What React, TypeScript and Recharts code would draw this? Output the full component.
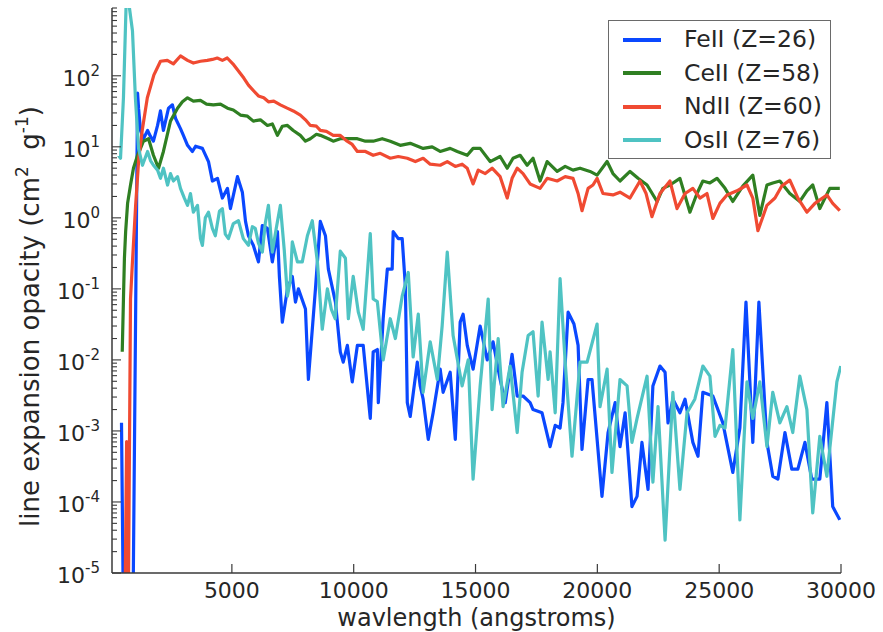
// Line expansion opacity vs wavelength for four singly ionised species (log y axis),
// matplotlib-classic look: boxed axes, inward ticks, framed legend top right.

import { Legend, Line, LineChart, XAxis, YAxis } from "recharts";

document.body.style.margin = "0";

const FONT = "'DejaVu Sans', Verdana, sans-serif";
const INK = "#262626";
const FRAME = "#3a3a3a";
const FS = 22;

// wavelength (angstroms) and opacity (cm^2 g^-1)
const feWave = [
  470, 560, 930, 1130, 1170, 1250, 1370, 1540, 1660, 1780,
  1950, 2070, 2190, 2400, 2560, 2690, 2890, 3010, 3180, 3380,
  3510, 3790, 4040, 4200, 4410, 4610, 4820, 4940, 5230, 5430,
  5560, 5680, 5880, 6090, 6250, 6460, 6660, 6870, 6950, 7070,
  7280, 7480, 7610, 7730, 8020, 8140, 8430, 8630, 8840, 8960,
  9250, 9450, 9570, 9740, 9940, 10150, 10390, 10680, 10800, 10970,
  11010, 11210, 11380, 11580, 11620, 11830, 11990, 12120, 12200, 12320,
  12610, 12730, 12850, 13060, 13260, 13550, 13670, 13960, 14170, 14370,
  14490, 14660, 14900, 15190, 15480, 15720, 16010, 16220, 16500, 16710,
  16950, 17240, 17360, 17730, 18060, 18270, 18470, 18590, 18800, 19040,
  19210, 19370, 19620, 19780, 20190, 20440, 20730, 20930, 21140, 21420,
  21630, 21830, 22080, 22280, 22570, 22780, 22900, 23100, 23390, 23600,
  23920, 24130, 24330, 24740, 25150, 25560, 25850, 26100, 26380, 26630,
  26960, 27200, 27410, 27700, 27980, 28230, 28520, 28800, 29130, 29420,
  29660, 29950,
];
const feOpacity = [
  1.3e-3, 1e-6, 1e-6, 57, 35, 17, 13, 17, 14, 12,
  20, 32, 17, 35, 39, 25, 18, 14.5, 10.5, 8.6,
  10.2, 9.5, 6.2, 3.3, 3.6, 1.9, 2.6, 1.35, 3.8, 2.3,
  0.89, 0.56, 0.41, 0.24, 0.78, 0.71, 0.24, 0.64, 0.15, 0.034,
  0.1, 0.15, 0.065, 0.1, 0.052, 0.0053, 0.1, 0.89, 0.56, 0.19,
  0.065, 0.013, 0.0093, 0.016, 0.0049, 0.016, 0.016, 0.0015, 0.013, 0.014,
  0.0025, 0.038, 0.19, 0.19, 0.64, 0.51, 0.51, 0.11, 0.0025, 0.0016,
  0.0093, 0.0043, 0.0028, 7.6e-4, 0.0018, 0.0074, 0.0035, 0.0067, 7.6e-4, 0.034,
  0.044, 0.016, 0.0074, 0.03, 0.01, 0.018, 0.0053, 0.0025, 0.012, 0.0031,
  0.0031, 0.0025, 0.002, 0.0018, 6e-4, 0.0012, 0.0011, 0.0025, 0.047, 0.032,
  0.016, 5.5e-4, 0.0053, 0.0053, 1.2e-4, 9.5e-4, 0.0025, 6e-4, 0.0018, 8.6e-5,
  1.2e-4, 6.9e-4, 1.5e-4, 0.0043, 0.0082, 0.0067, 0.0013, 0.0028, 0.0018, 0.0028,
  6.9e-4, 4.4e-4, 0.0035, 0.0031, 0.0013, 2.6e-4, 0.0011, 0.065, 6.9e-4, 0.065,
  6.9e-4, 2.3e-4, 2.1e-4, 9.5e-4, 2.9e-4, 2.9e-4, 6.9e-4, 2.1e-4, 2.1e-4, 0.0025,
  8.6e-5, 5.6e-5,
];

const ceWave = [
  500, 550, 590, 640, 720, 840, 960, 1130, 1250, 1370,
  1580, 1780, 1990, 2190, 2480, 2770, 2970, 3180, 3420, 3710,
  3960, 4240, 4530, 4820, 5060, 5350, 5640, 5880, 6170, 6460,
  6660, 6870, 7070, 7280, 7520, 7810, 8020, 8220, 8470, 8630,
  8960, 9160, 9450, 9740, 10150, 10480, 10800, 11170, 11500, 11910,
  12320, 12850, 13220, 13550, 13960, 14250, 14660, 14900, 15190, 15600,
  16010, 16300, 16540, 16830, 17120, 17360, 17650, 17940, 18350, 18680,
  19000, 19290, 19700, 19990, 20400, 20640, 20930, 21340, 21670, 22040,
  22450, 22690, 22980, 23390, 23800, 24090, 24330, 24620, 24910, 25240,
  25560, 25970, 26380, 26670, 26960, 27200, 27490, 27900, 28310, 28600,
  28840, 29130, 29540, 29950,
];
const ceOpacity = [
  0.013, 0.072, 0.27, 0.64, 1.6, 2.9, 5, 7.6, 9.5, 12,
  13, 7.6, 5, 8.6, 23, 35, 43, 49, 44, 45,
  40, 39, 40, 35, 33, 28, 27, 23, 24, 20,
  21, 14.5, 19.5, 20, 17, 14.5, 12, 13, 15, 14.5,
  13, 12, 13, 13, 13, 12, 12, 13, 12, 10.5,
  11.2, 9.5, 10, 8.6, 9.5, 8.6, 7.6, 9.5, 9.5, 6.2,
  7.3, 5, 6.9, 7.6, 5.5, 6.9, 3.3, 6.2, 4.5, 5.3,
  4.7, 5, 4.5, 4, 6.2, 4.2, 3.3, 4.5, 3.6, 2.9,
  1.7, 2.6, 2.9, 3.6, 1.2, 2.2, 3.3, 3.1, 3.6, 2.6,
  1.7, 2.8, 4, 1.08, 2.9, 3.1, 3.3, 2.2, 1.7, 2.4,
  2.9, 1.35, 2.6, 2.6,
];

const ndWave = [
  600, 680, 740, 840, 910, 1050, 1180, 1320, 1530, 1800,
  2070, 2350, 2600, 2890, 3180, 3420, 3710, 3990, 4200, 4400,
  4610, 4810, 5080, 5270, 5490, 5680, 5900, 6090, 6310, 6500,
  6720, 6990, 7270, 7520, 7810, 8020, 8220, 8470, 8630, 8880,
  9160, 9450, 9730, 9940, 10150, 10480, 10800, 11090, 11500, 11830,
  12200, 12530, 12850, 13140, 13550, 13840, 14170, 14450, 14660, 14900,
  15110, 15400, 15680, 16010, 16300, 16500, 16710, 16950, 17240, 17650,
  17940, 18350, 18680, 19000, 19210, 19370, 19620, 19820, 19990, 20230,
  20640, 20930, 21340, 21750, 22000, 22240, 22570, 22980, 23270, 23600,
  23920, 24210, 24500, 24740, 25030, 25320, 25730, 26140, 26380, 26590,
  26960, 27290, 27570, 27900, 28230, 28600, 28930, 29420, 29660, 29950,
];
const ndOpacity = [
  1e-6, 7.1e-4, 1e-6, 0.072, 0.21, 1.5, 6.9, 17, 49, 103,
  160, 165, 147, 190, 165, 151, 160, 165, 170, 178,
  165, 178, 142, 117, 93, 74, 61, 52, 49, 43,
  44, 39, 35, 32, 28, 24, 20, 19.5, 17, 16.5,
  14.5, 14.5, 12, 10.8, 8.6, 8.6, 7.6, 8.1, 6.9, 7.3,
  6.9, 6.2, 6.9, 5.7, 5.5, 6.2, 5.3, 5.7, 5, 3,
  4.7, 4.2, 5, 3.8, 1.9, 3.6, 5, 4.2, 3, 2.6,
  3.6, 3.3, 3.8, 3.6, 2.2, 1.26, 2.6, 2.9, 3.6, 2.2,
  2.1, 2.3, 1.9, 3.3, 2.2, 1.04, 2.2, 3.3, 1.35, 2.2,
  2.6, 1.9, 2.2, 0.98, 1.6, 2.1, 2.4, 2.9, 1.9, 0.66,
  1.5, 1.9, 2.8, 3.4, 1.9, 1.2, 1.6, 2.1, 1.6, 1.26,
];

const osWave = [
  350, 430, 550, 680, 920, 1040, 1170, 1330, 1540, 1660,
  1780, 1950, 2070, 2190, 2360, 2480, 2600, 2770, 2890, 3050,
  3180, 3300, 3420, 3590, 3710, 3790, 3910, 4040, 4200, 4320,
  4490, 4610, 4730, 4860, 5060, 5270, 5470, 5680, 5840, 5960,
  6090, 6250, 6370, 6500, 6660, 6820, 6990, 7150, 7280, 7400,
  7480, 7690, 7890, 8100, 8300, 8510, 8710, 8920, 9080, 9240,
  9450, 9660, 9780, 9980, 10190, 10390, 10680, 10800, 10970, 11210,
  11500, 11710, 11990, 12240, 12440, 12650, 12850, 13140, 13430, 13630,
  13840, 14080, 14450, 14700, 14900, 15190, 15520, 15680, 15930, 16130,
  16420, 16710, 16910, 17160, 17360, 17570, 17730, 17980, 18060, 18270,
  18470, 18680, 18960, 19290, 19580, 19990, 20110, 20400, 20600, 20930,
  21220, 21420, 21630, 22040, 22280, 22490, 22780, 23100, 23390, 23680,
  24000, 24330, 24620, 24830, 25030, 25240, 25560, 25850, 26140, 26380,
  26670, 26960, 27200, 27490, 27780, 28020, 28310, 28600, 28840, 29130,
  29420, 29830, 29990,
];
const osOpacity = [
  7.6, 6.9, 49, 1800, 430, 49, 9.5, 5.5, 8.6, 6.4,
  5.5, 4.7, 3.6, 5, 2.9, 4.2, 3.3, 3.8, 2.6, 1.9,
  1.5, 2.2, 1.2, 1.5, 0.51, 0.41, 1, 1.2, 0.71, 0.56,
  1.24, 1.35, 0.59, 0.51, 0.83, 0.91, 0.51, 0.41, 0.75, 0.71,
  0.44, 0.33, 0.83, 1.5, 0.33, 0.71, 1.5, 0.35, 0.079, 0.13,
  0.46, 0.24, 0.24, 0.56, 0.91, 0.24, 0.027, 0.1, 0.052, 0.038,
  0.34, 0.27, 0.038, 0.15, 0.047, 0.027, 0.6, 0.072, 0.066, 0.01,
  0.038, 0.02, 0.079, 0.17, 0.011, 0.044, 0.0035, 0.018, 0.0053, 0.03,
  0.33, 0.022, 0.0043, 0.01, 2.1e-4, 0.0043, 0.072, 0.002, 0.02, 0.0022,
  0.0082, 9.5e-4, 0.0067, 0.022, 0.025, 0.0031, 0.034, 0.0053, 0.013, 0.0018,
  0.14, 0.0093, 4.4e-4, 0.0093, 0.0093, 0.032, 0.0022, 0.0074, 2.6e-4, 0.0053,
  0.0043, 6.9e-4, 0.0015, 0.0059, 1.9e-4, 0.0022, 2.9e-5, 0.0035, 1.5e-4, 0.0018,
  0.0028, 0.0082, 0.0059, 8.4e-4, 0.0012, 0.0011, 0.014, 5.6e-5, 0.0049, 0.0015,
  0.0049, 6e-4, 0.0035, 0.0013, 0.0022, 9.5e-4, 0.0059, 0.002, 7e-5, 8.4e-4,
  2.3e-4, 0.0049, 0.0082,
];

const xTicks = [5000, 10000, 15000, 20000, 25000, 30000];
const decades = [1e-5, 1e-4, 1e-3, 1e-2, 1e-1, 1, 10, 100];
const X_DOMAIN: [number, number] = [80, 30000];
const Y_DOMAIN: [number, number] = [1e-5, 900];

// decades plus the 2..9 minor marks inside each one
const yTicks = decades
  .flatMap((d) => [1, 2, 3, 4, 5, 6, 7, 8, 9].map((m) => d * m))
  .filter((v) => v <= Y_DOMAIN[1]);

const pairs = (wave: number[], opacity: number[]) =>
  wave.map((w, i) => ({ w, k: opacity[i] }));

const series = [
  { name: "FeII (Z=26)", color: "#0a48ff", data: pairs(feWave, feOpacity) },
  { name: "CeII (Z=58)", color: "#2f7f22", data: pairs(ceWave, ceOpacity) },
  { name: "NdII (Z=60)", color: "#f04a32", data: pairs(ndWave, ndOpacity) },
  { name: "OsII (Z=76)", color: "#4fc3c3", data: pairs(osWave, osOpacity) },
];

const PAD = 12; // gap between axis line and tick label
const isDecade = (v: number) => Math.abs(Math.log10(v) - Math.round(Math.log10(v))) < 1e-6;

function BottomTick({ x, y, payload }: any) {
  const ay = y - PAD;
  return (
    <g>
      <line x1={x} x2={x} y1={ay} y2={ay - 9} stroke={FRAME} strokeWidth={1.2} />
      <text x={x} y={ay + 25} textAnchor="middle" fontSize={FS} fill={INK} fontFamily={FONT}>
        {payload.value}
      </text>
    </g>
  );
}

function TopTick({ x, y }: any) {
  const ay = y + PAD;
  return <line x1={x} x2={x} y1={ay} y2={ay + 9} stroke={FRAME} strokeWidth={1.2} />;
}

function LeftTick({ x, y, payload }: any) {
  const ax = x + PAD;
  const major = isDecade(payload.value);
  const exp = Math.round(Math.log10(payload.value));
  return (
    <g>
      <line x1={ax} x2={ax + (major ? 9 : 5)} y1={y} y2={y} stroke={FRAME} strokeWidth={1.1} />
      {major && (
        <text x={x} y={y + 10} textAnchor="end" fontSize={FS} fill={INK} fontFamily={FONT}>
          10<tspan dy={-10} fontSize={15}>{exp}</tspan>
        </text>
      )}
    </g>
  );
}

function RightTick({ x, y, payload }: any) {
  const ax = x - PAD;
  const major = isDecade(payload.value);
  return <line x1={ax} x2={ax - (major ? 9 : 5)} y1={y} y2={y} stroke={FRAME} strokeWidth={1.1} />;
}

function XTitle(props: any) {
  const vb = props?.viewBox ?? { x: 112, y: 573, width: 729, height: 59 };
  return (
    <text x={vb.x + vb.width / 2} y={vb.y + 53} textAnchor="middle" fontSize={24} fill={INK} fontFamily={FONT}>
      wavlength (angstroms)
    </text>
  );
}

function YTitle(props: any) {
  const vb = props?.viewBox ?? { x: 0, y: 8, width: 112, height: 565 };
  const cx = vb.x + 39;
  const cy = vb.y + vb.height / 2 + 26;
  return (
    <text x={cx} y={cy} transform={`rotate(-90 ${cx} ${cy})`} textAnchor="middle" fontSize={26} fill={INK} fontFamily={FONT}>
      line expansion opacity (cm<tspan dy={-11} fontSize={17}>2</tspan><tspan dy={11}>{"\u00a0\u00a0g"}</tspan><tspan dy={-11} fontSize={17}>-1</tspan><tspan dy={11}>)</tspan>
    </text>
  );
}

// legend rows follow the plotting order of the series
function LegendBox() {
  return (
    <div style={{ boxSizing: "border-box", width: 223, height: 139, padding: "2px 0", border: "1.5px solid #6a6a6a", background: "#fff", fontFamily: FONT, fontSize: 23.5, color: INK }}>
      {series.map((s) => (
        <div key={s.name} style={{ display: "flex", alignItems: "center", height: 33.5 }}>
          <span style={{ width: 38, height: 4, marginLeft: 14, background: s.color }} />
          <span style={{ marginLeft: 23, lineHeight: 1 }}>{s.name}</span>
        </div>
      ))}
    </div>
  );
}

export default function App() {
  return (
    <div style={{ fontFamily: FONT }}>
      <LineChart width={883} height={632} margin={{ top: 8, right: 42, bottom: 0, left: 0 }}>
        <XAxis xAxisId="b" dataKey="w" type="number" domain={X_DOMAIN} allowDataOverflow ticks={xTicks} interval={0}
          height={59} tickSize={0} tickMargin={PAD} tickLine={false} tick={BottomTick}
          axisLine={{ stroke: FRAME, strokeWidth: 1.5 }} label={XTitle} />
        <XAxis xAxisId="t" orientation="top" dataKey="w" type="number" domain={X_DOMAIN} allowDataOverflow ticks={xTicks} interval={0}
          height={0} tickSize={0} tickMargin={PAD} tickLine={false} tick={TopTick}
          axisLine={{ stroke: FRAME, strokeWidth: 1.5 }} />
        <YAxis yAxisId="l" type="number" scale="log" domain={Y_DOMAIN} allowDataOverflow ticks={yTicks} interval={0}
          width={112} tickSize={0} tickMargin={PAD} tickLine={false} tick={LeftTick}
          axisLine={{ stroke: FRAME, strokeWidth: 1.5 }} label={YTitle} />
        <YAxis yAxisId="r" orientation="right" type="number" scale="log" domain={Y_DOMAIN} allowDataOverflow ticks={yTicks} interval={0}
          width={0} tickSize={0} tickMargin={PAD} tickLine={false} tick={RightTick}
          axisLine={{ stroke: FRAME, strokeWidth: 1.5 }} />
        {series.map((s) => (
          <Line key={s.name} xAxisId="b" yAxisId="l" data={s.data} dataKey="k" name={s.name} type="linear"
            stroke={s.color} strokeWidth={3.2} strokeLinejoin="round" dot={false} activeDot={false}
            isAnimationActive={false} />
        ))}
        <Legend layout="vertical" align="center" verticalAlign="middle" content={LegendBox}
          wrapperStyle={{ top: 20, left: 608, width: 223, height: 139 }} />
      </LineChart>
    </div>
  );
}
